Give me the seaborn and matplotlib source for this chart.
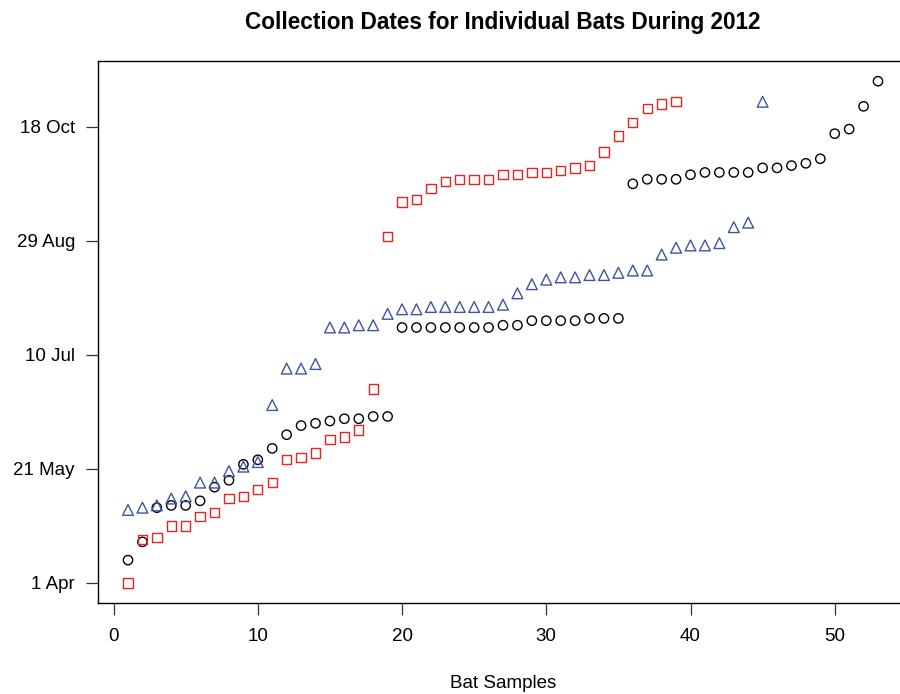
import numpy as np
import pandas as pd
import seaborn as sns
import matplotlib
matplotlib.use("Agg")
import matplotlib.pyplot as plt

# days after 1 April 2012
black_days = [10, 18, 33, 34, 34, 36, 42, 45, 52, 54, 59, 65, 69, 70, 71, 72, 72, 73, 73,
              112, 112, 112, 112, 112, 112, 112, 113, 113, 115, 115, 115, 115, 116, 116, 116,
              175, 177, 177, 177, 179, 180, 180, 180, 180, 182, 182, 183, 184, 186,
              197, 199, 209, 220]
red_days = [0, 19, 20, 25, 25, 29, 31, 37, 38, 41, 44, 54, 55, 57, 63, 64, 67, 85,
            152, 167, 168, 173, 176, 177, 177, 177, 179, 179, 180, 180, 181, 182, 183,
            189, 196, 202, 208, 210, 211]
blue_days = [32, 33, 34, 37, 38, 44, 44, 49, 51, 53, 78, 94, 94, 96, 112, 112, 113, 113,
             118, 120, 120, 121, 121, 121, 121, 121, 122, 127, 131, 133, 134, 134, 135, 135,
             136, 137, 137, 144, 147, 148, 148, 149, 156, 158, 211]

ytick_days = [0, 50, 100, 150, 200]
ytick_labels = ["1 Apr", "21 May", "10 Jul", "29 Aug", "18 Oct"]
xtick_vals = [0, 10, 20, 30, 40, 50]

sns.set_style("white")
plt.rcParams['font.family'] = ['Liberation Sans', 'DejaVu Sans']
plt.rcParams['text.color'] = 'black'
plt.rcParams['axes.labelcolor'] = 'black'
plt.rcParams['xtick.color'] = 'black'
plt.rcParams['ytick.color'] = 'black'

fig = plt.figure(figsize=(9, 6.94), dpi=100)
ax = fig.add_axes([98 / 900, 91 / 694, 810 / 900, 542.3 / 694])

series = [
    (black_days, "o", "black", 45),
    (red_days, "s", "#EE2020", 45),
    (blue_days, "^", "#3A55A8", 60),
]
for days, mk, col, size in series:
    df = pd.DataFrame({"sample": np.arange(1, len(days) + 1), "day": days})
    sns.scatterplot(data=df, x="sample", y="day", marker=mk, s=size,
                    facecolor="none", edgecolor=col, linewidth=1.0, ax=ax)

ax.set_xlim(-1.08, 55.08)
ax.set_ylim(-8.8, 229)
ax.set_xticks(xtick_vals)
ax.set_yticks(ytick_days)
ax.set_yticklabels(ytick_labels)

for side in ["left", "bottom", "top"]:
    ax.spines[side].set_color("black")
    ax.spines[side].set_linewidth(1.0)
ax.spines["right"].set_visible(False)

ax.tick_params(axis="both", which="major", direction="out", length=8.6, width=0.9,
               color="#333333", labelcolor="black", labelsize=13.5, bottom=True, left=True)
ax.tick_params(axis="x", pad=9.5)
ax.tick_params(axis="y", pad=8)

ax.set_xlabel("Bat Samples", fontsize=13.5, color="black")
ax.xaxis.label.set_va("center")
ax.xaxis.set_label_coords(0.5, -(684 - 603) / 542.3)
ax.set_ylabel("")
ax.set_title("Collection Dates for Individual Bats During 2012",
             fontsize=16.3, fontweight="bold", color="black", pad=23)

fig.savefig("out.png", dpi=100)
